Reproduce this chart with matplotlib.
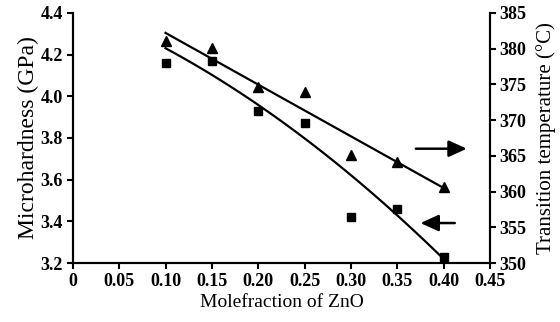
import matplotlib
matplotlib.use('Agg')
import matplotlib.pyplot as plt
import numpy as np

plt.rcParams['font.family'] = ['Liberation Serif', 'DejaVu Serif']

# ZnO mole fraction
zno = [0.10, 0.15, 0.20, 0.25, 0.30, 0.35, 0.40]
# microhardness (GPa), squares, left axis
hardness = [4.16, 4.17, 3.93, 3.87, 3.42, 3.46, 3.23]
# transition temperature (C), triangles, right axis
temperature = [381.0, 380.1, 374.6, 373.9, 365.1, 364.2, 360.6]

# fit curves
hard_fit_x = [0.10, 0.20, 0.30, 0.40]
hard_fit_y = [4.23, 3.96, 3.62, 3.22]
temp_fit_x = [0.10, 0.40]
temp_fit_y = [382.2, 360.5]

xticks = [0, 0.05, 0.10, 0.15, 0.20, 0.25, 0.30, 0.35, 0.40, 0.45]
xticklabels = ['0', '0.05', '0.10', '0.15', '0.20', '0.25', '0.30', '0.35', '0.40', '0.45']
yticks = [3.2, 3.4, 3.6, 3.8, 4.0, 4.2, 4.4]
tticks = [350, 355, 360, 365, 370, 375, 380, 385]

fig = plt.figure(figsize=(5.6, 3.22), dpi=100)
ax = fig.add_axes([0.130, 0.183, 0.745, 0.777])
ax2 = ax.twinx()

# hardness: quadratic through the read points
c = np.polyfit(hard_fit_x, hard_fit_y, 2)
xs = np.linspace(hard_fit_x[0], hard_fit_x[-1], 100)
ax.plot(xs, np.polyval(c, xs), color='black', lw=1.6)
ax.plot(zno, hardness, 's', color='black', ms=5.5)

ax2.plot(temp_fit_x, temp_fit_y, color='black', lw=1.6)
ax2.plot(zno, temperature, '^', color='black', ms=6.5)

ax.set_xlim(0, 0.45)
ax.set_ylim(3.2, 4.4)
ax2.set_ylim(350, 385)

ax.set_xticks(xticks)
ax.set_xticklabels(xticklabels)
ax.set_yticks(yticks)
ax.set_yticklabels([f'{v:.1f}' for v in yticks])
ax2.set_yticks(tticks)

for a in (ax, ax2):
    a.spines['top'].set_visible(False)
    for s in a.spines.values():
        s.set_linewidth(1.5)
    a.tick_params(width=1.5, length=4, labelsize=13, pad=3)
for lab in ax.get_yticklabels() + ax.get_xticklabels():
    lab.set_fontweight('bold')
for lab in ax2.get_yticklabels():
    lab.set_fontweight('bold')

ax.set_xlabel('Molefraction of ZnO', fontsize=14, labelpad=3)
ax.set_ylabel('Microhardness (GPa)', fontsize=17, labelpad=1)
ax2.set_ylabel('Transition temperature (\u00b0C)', fontsize=15, labelpad=7)

# arrows pointing to the axis of each curve
ax2.annotate('', xy=(0.428, 366), xytext=(0.367, 366),
             arrowprops=dict(arrowstyle='-|>,head_length=1.1,head_width=0.5',
                             color='black', lw=1.8))
ax2.annotate('', xy=(0.372, 355.6), xytext=(0.415, 355.6),
             arrowprops=dict(arrowstyle='-|>,head_length=1.1,head_width=0.5',
                             color='black', lw=1.8))

fig.savefig('out.png', dpi=100)
